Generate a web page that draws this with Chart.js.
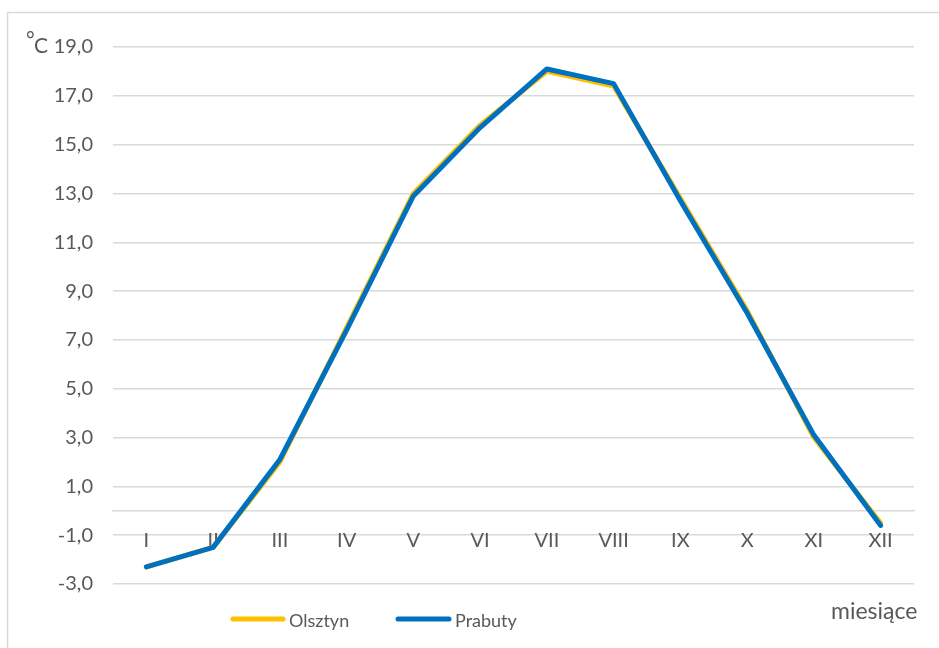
<!DOCTYPE html>
<html>
<head>
<meta charset="utf-8">
<script src="https://cdn.jsdelivr.net/npm/chart.js@4/dist/chart.umd.min.js"></script>
<style>
  html, body { margin: 0; padding: 0; background: #ffffff; }
  #wrap { position: relative; width: 939px; height: 648px; }
</style>
</head>
<body>
<div id="wrap"><canvas id="c" width="939" height="648"></canvas></div>
<script>
const categories = ["I", "II", "III", "IV", "V", "VI", "VII", "VIII", "IX", "X", "XI", "XII"];
const olsztyn = [-2.3, -1.5, 2.0, 7.5, 13.0, 15.8, 18.0, 17.4, 12.8, 8.2, 3.0, -0.5];
const prabuty = [-2.3, -1.5, 2.1, 7.4, 12.9, 15.7, 18.1, 17.5, 12.7, 8.1, 3.1, -0.6];
const seriesNames = ["Olsztyn", "Prabuty"];
const yMin = -3, yMax = 19, yStep = 2;
const yUnit = "°C";
const xTitle = "miesiące";

const FONT = "Lato, 'Open Sans', sans-serif";
const TEXT = "#595959";
const GRID = "#d9d9d9";
const COLORS = ["#FFC000", "#0070C0"];

const decorPlugin = {
  id: "decor",
  beforeDraw(chart) {
    const ctx = chart.ctx;
    ctx.save();
    ctx.fillStyle = "#ffffff";
    ctx.fillRect(0, 0, chart.width, chart.height);
    ctx.strokeStyle = GRID;
    ctx.lineWidth = 1.5;
    ctx.beginPath();
    ctx.moveTo(7.5, chart.height);
    ctx.lineTo(7.5, 12.5);
    ctx.lineTo(chart.width, 12.5);
    ctx.stroke();
    ctx.restore();
  },
  afterDraw(chart) {
    const ctx = chart.ctx;
    ctx.save();
    ctx.fillStyle = TEXT;
    ctx.textBaseline = "alphabetic";
    ctx.textAlign = "left";
    // unit label
    ctx.font = "21px " + FONT;
    ctx.fillText("°", 26, 47);
    ctx.fillText(yUnit.replace("°", ""), 34, 53);
    // x title
    ctx.font = "23px " + FONT;
    ctx.fillText(xTitle, 831, 619);
    // legend
    const items = [
      { x: 231, w: 54, tx: 289 },
      { x: 396, w: 55, tx: 455 }
    ];
    ctx.font = "18px " + FONT;
    ctx.textBaseline = "middle";
    chart.data.datasets.forEach((ds, i) => {
      const it = items[i];
      ctx.strokeStyle = ds.borderColor;
      ctx.lineWidth = 5;
      ctx.lineCap = "round";
      ctx.beginPath();
      ctx.moveTo(it.x + 2, 619);
      ctx.lineTo(it.x + it.w - 2, 619);
      ctx.stroke();
      ctx.fillStyle = TEXT;
      ctx.fillText(ds.label, it.tx, 621);
    });
    ctx.restore();
  }
};

new Chart(document.getElementById("c"), {
  type: "line",
  data: {
    labels: categories,
    datasets: [
      { label: seriesNames[0], data: olsztyn, borderColor: COLORS[0], backgroundColor: COLORS[0],
        borderWidth: 5, pointRadius: 0, tension: 0, borderCapStyle: "round", borderJoinStyle: "round", order: 2 },
      { label: seriesNames[1], data: prabuty, borderColor: COLORS[1], backgroundColor: COLORS[1],
        borderWidth: 5, pointRadius: 0, tension: 0, borderCapStyle: "round", borderJoinStyle: "round", order: 1 }
    ]
  },
  options: {
    responsive: false,
    animation: false,
    devicePixelRatio: 1,
    layout: { padding: { left: 0, top: 47, right: 25, bottom: 64 } },
    plugins: { legend: { display: false }, tooltip: { enabled: false }, title: { display: false } },
    scales: {
      x: {
        type: "category",
        offset: true,
        position: { y: 0 },
        grid: { display: false, drawTicks: false },
        border: { display: true, color: GRID, width: 1.5 },
        ticks: { color: TEXT, font: { family: FONT, size: 20 }, padding: 18, maxRotation: 0, autoSkip: false }
      },
      y: {
        min: yMin, max: yMax,
        afterFit(scale) { scale.width = 113; },
        grid: { color: GRID, lineWidth: 1.5, drawTicks: false },
        border: { display: false },
        ticks: {
          stepSize: yStep, color: TEXT, padding: 20,
          font: { family: FONT, size: 20 },
          callback: v => v.toFixed(1).replace(".", ",")
        }
      }
    }
  },
  plugins: [decorPlugin]
});
</script>
</body>
</html>
